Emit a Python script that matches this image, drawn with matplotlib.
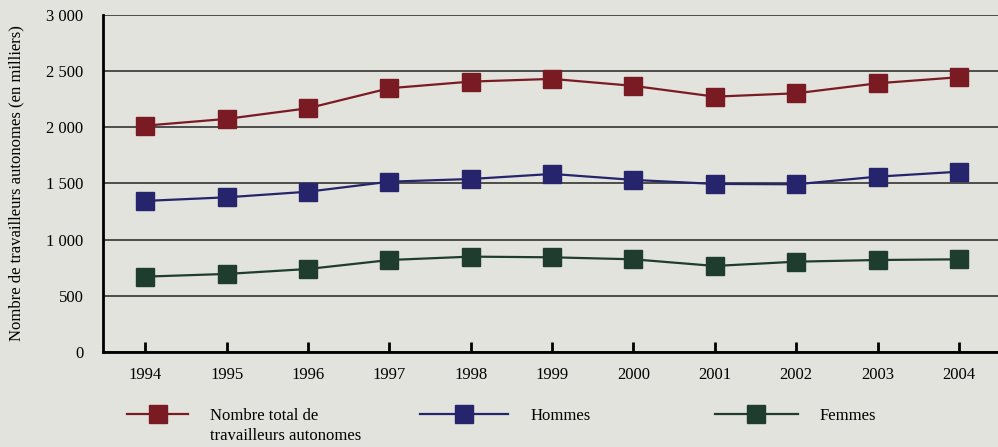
import matplotlib
matplotlib.use('Agg')
import matplotlib.pyplot as plt
from matplotlib.ticker import FuncFormatter

years = [1994, 1995, 1996, 1997, 1998, 1999, 2000, 2001, 2002, 2003, 2004]
total = [2015, 2075, 2170, 2348, 2407, 2431, 2369, 2273, 2303, 2392, 2446]
hommes = [1345, 1377, 1427, 1516, 1540, 1585, 1532, 1496, 1493, 1561, 1605]
femmes = [671, 695, 739, 819, 849, 843, 825, 766, 804, 819, 825]

labels = ['Nombre total de', 'Hommes', 'Femmes']
colors = ['#7a1b24', '#25246c', '#1f3d2f']
bg = '#e3e3dd'

plt.rcParams['font.family'] = ['Liberation Serif', 'DejaVu Serif']

fig = plt.figure(figsize=(9.98, 4.47), dpi=100, facecolor=bg)
ax = fig.add_axes([0.1032, 0.2125, 0.8968, 0.754])
ax.set_facecolor(bg)

handles = []
for series, c, lab in zip([total, hommes, femmes], colors, labels):
    h, = ax.plot(years, series, color=c, lw=1.6, marker='s', ms=12.5,
                 markerfacecolor=c, markeredgecolor=c, label=lab, zorder=3)
    handles.append(h)

ax.set_xlim(1993.48, 2004.48)
ax.set_ylim(0, 3000)
ax.set_xticks(years)
ax.set_yticks(range(0, 3001, 500))
ax.yaxis.set_major_formatter(FuncFormatter(lambda v, p: f"{int(v):,}".replace(',', ' ')))
ax.grid(axis='y', color='#333333', lw=1.2)
ax.set_axisbelow(True)

for s in ['top', 'right']:
    ax.spines[s].set_visible(False)
ax.spines['left'].set_linewidth(2)
ax.spines['bottom'].set_linewidth(2)
ax.tick_params(axis='x', direction='in', length=7, width=2, labelsize=12, pad=11)
ax.tick_params(axis='y', length=0, labelsize=12, pad=14)
ax.set_ylabel('Nombre de travailleurs autonomes (en milliers)', fontsize=12)
ax.yaxis.set_label_coords(-0.088, 0.5)

# one legend per entry, placed like the original
legend_x = [0.127, 0.421, 0.716]
handle_len = [3.7, 5.3, 5.0]
for h, x, hl in zip(handles, legend_x, handle_len):
    fig.legend([h], [h.get_label()], loc='center left', bbox_to_anchor=(x, 0.069),
               frameon=False, fontsize=12, handlelength=hl, handletextpad=1.3,
               borderpad=0, borderaxespad=0)
fig.text(0.2105, 0.024, 'travailleurs autonomes', fontsize=12, va='center', ha='left')

fig.savefig('out.png', dpi=100, facecolor=bg)
